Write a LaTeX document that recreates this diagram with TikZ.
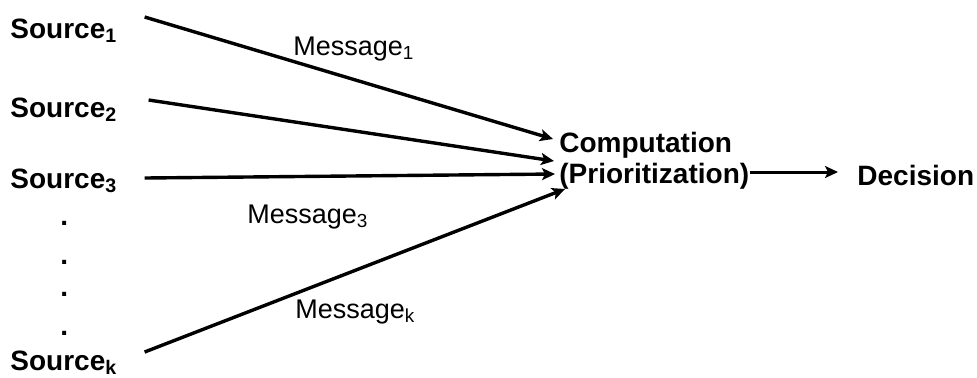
\documentclass[tikz,border=0pt]{standalone}
\usepackage{fontspec}
\setmainfont{Liberation Sans}
\usetikzlibrary{arrows.meta}
\tikzset{
  lbl/.style={inner sep=0, anchor=base west, font=\fontsize{14}{15.5}\selectfont\bfseries},
  msg/.style={inner sep=0, anchor=base west, font=\fontsize{13.5}{15}\selectfont},
  flow/.style={line width=1.7pt, -{Stealth[length=6.5pt,width=6pt,inset=1.5pt]}},
}
\begin{document}
\begin{tikzpicture}[x=0.5pt,y=-0.5pt]
\useasboundingbox (0,0) rectangle (977,377);
% sources on the left
\node[lbl] (src1) at (10,38) {Source\textsubscript{1}};
\node[lbl] (src2) at (10,117) {Source\textsubscript{2}};
\node[lbl] (src3) at (10,188) {Source\textsubscript{3}};
\node[lbl] (srck) at (10,370) {Source\textsubscript{k}};
\foreach \i/\y in {1/225,2/264,3/296,4/335}
  \node[lbl] (dot\i) at (60,\y) {.};
% computation and decision
\node[lbl, align=left, anchor=west] (comp) at (559,161) {Computation\\(Prioritization)};
\node[lbl] (dec) at (857,185) {Decision};
% message labels
\node[msg] (msg1) at (293,55) {Message\textsubscript{1}};
\node[msg] (msg3) at (247,223) {Message\textsubscript{3}};
\node[msg] (msgk) at (295,318) {Message\textsubscript{k}};
% where the arrows meet the computation text
\coordinate (in1) at ([shift={(-6,-22)}]comp.west);
\coordinate (in2) at ([shift={(-5,0)}]comp.west);
\coordinate (in3) at ([shift={(-4,13)}]comp.west);
\coordinate (ink) at ([shift={(6,28)}]comp.west);
\draw[flow] ([shift={(27,-21)}]src1.base east) -- (in1);
\draw[flow] ([shift={(31,-17)}]src2.base east) -- (in2);
\draw[flow] ([shift={(27,-10)}]src3.base east) -- (in3);
\draw[flow] ([shift={(27,-18)}]srck.base east) -- (ink);
\draw[flow, line width=1.5pt] ([yshift=-5.5pt]comp.east) -- ([shift={(-19,-13)}]dec.base west);
\end{tikzpicture}
\end{document}
